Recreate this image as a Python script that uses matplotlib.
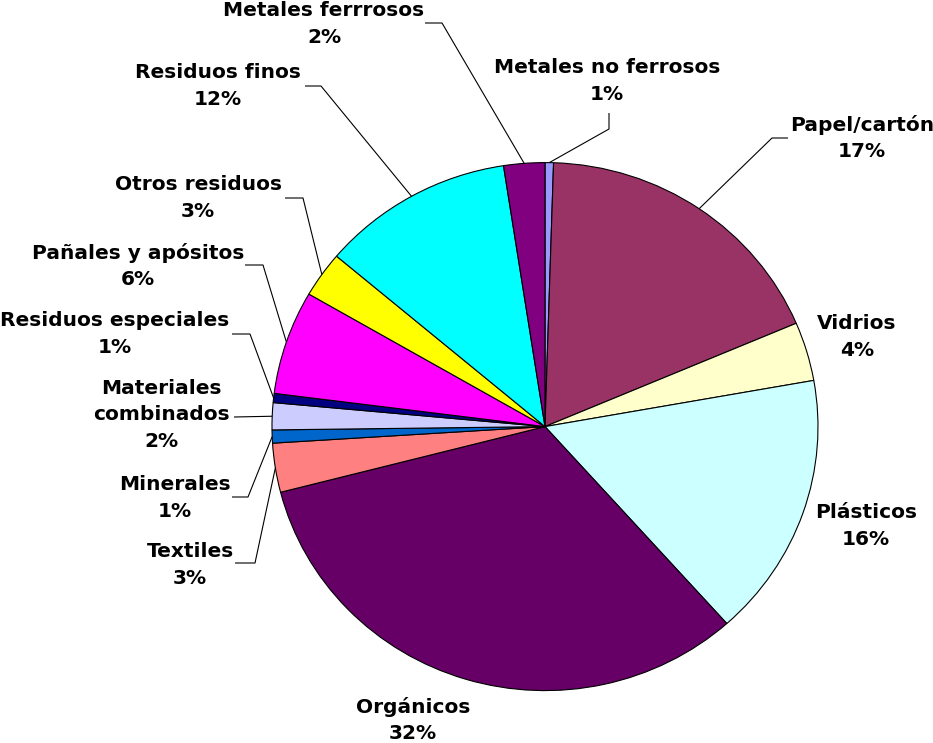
import matplotlib
matplotlib.use('Agg')
import matplotlib.pyplot as plt
import numpy as np

categories = ['Metales no ferrosos', 'Papel/cartón', 'Vidrios', 'Plásticos', 'Orgánicos',
              'Textiles', 'Minerales', 'Materiales\ncombinados', 'Residuos especiales',
              'Pañales y apósitos', 'Otros residuos', 'Residuos finos', 'Metales ferrrosos']
values = [0.5, 18.1, 3.6, 16.2, 32.6, 3.0, 0.8, 1.65, 0.56, 6.36, 2.8, 11.4, 2.43]
pct_labels = ['1%', '17%', '4%', '16%', '32%', '3%', '1%', '2%', '1%', '6%', '3%', '12%', '2%']
colors = ['#9999FF', '#993366', '#FFFFCC', '#CCFFFF', '#660066', '#FF8080', '#0066CC',
          '#CCCCFF', '#000080', '#FF00FF', '#FFFF00', '#00FFFF', '#800080']

# label block centres (pixels) and leader polylines (pixels, label side first)
label_pos = [(607, 81), (862, 138), (857, 337), (866, 526), (413, 720), (190, 565),
             (175, 498), (161, 415), (115, 334), (138, 266), (198, 198), (218, 86), (324, 24)]
leaders = [[(609, 113), (609, 129)], [(788, 138), (772, 138)], None, None, None,
           [(235, 563), (255, 563)], [(232, 497), (248, 497)], [(234, 417)],
           [(232, 334), (250, 334)], [(245, 265), (263, 265)], [(285, 198), (303, 198)],
           [(305, 86), (321, 86)], [(425, 23), (442, 23)]]

plt.rcParams['font.family'] = ['DejaVu Sans']

W, H = 933, 743
fig = plt.figure(figsize=(W / 100, H / 100), dpi=100)
ax = fig.add_axes([0, 0, 1, 1])
wedges, _ = ax.pie(values, colors=colors, startangle=90, counterclock=False,
                   wedgeprops=dict(edgecolor='black', linewidth=0.8))

CX, CY, RX, RY = 545, 426.6, 273, 264
ax.set_aspect('auto')
ax.set_xlim(-CX / RX, (W - CX) / RX)
ax.set_ylim(-(H - CY) / RY, CY / RY)
ax.axis('off')


def px(x, y):
    return ((x - CX) / RX, (CY - y) / RY)


for w, name, pct, pos, lead in zip(wedges, categories, pct_labels, label_pos, leaders):
    x, y = px(*pos)
    ax.text(x, y, f'{name}\n{pct}', ha='center', va='center', multialignment='center',
            fontsize=14.5, fontweight='bold', color='black', linespacing=1.5)
    if lead is not None:
        th = np.deg2rad((w.theta1 + w.theta2) / 2)
        pts = [px(*p) for p in lead] + [(np.cos(th), np.sin(th))]
        xs, ys = zip(*pts)
        ax.plot(xs, ys, color='black', linewidth=0.8, solid_capstyle='butt')

fig.savefig('out.png', dpi=100, facecolor='white')
